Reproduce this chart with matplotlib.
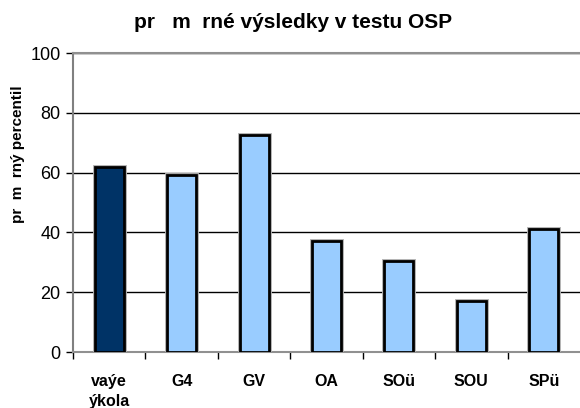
import matplotlib
matplotlib.use("Agg")
import matplotlib.pyplot as plt
import matplotlib.patheffects as pe

categories = ["vaýe\nýkola", "G4", "GV", "OA", "SOü", "SOU", "SPü"]
values = [62, 59.2, 72.7, 37.3, 30.6, 17.2, 41.2]
colors = ["#003366"] + ["#99CCFF"] * 6
yticks = [0, 20, 40, 60, 80, 100]

plt.rcParams['font.family'] = ['Liberation Sans', 'DejaVu Sans']

fig = plt.figure(figsize=(5.8, 4.08), dpi=100)
ax = fig.add_axes([0.126, 0.137, 0.874, 0.733])

x = list(range(len(categories)))
bars = ax.bar(x, values, width=0.4, color=colors, edgecolor="black", linewidth=2, zorder=3)
for b in bars:
    b.set_path_effects([pe.Stroke(linewidth=3.5, foreground="#b0b0b0"), pe.Normal()])

ax.set_xlim(-0.5, len(categories) - 0.5)
ax.set_ylim(0, 100)
ax.set_yticks(yticks)
ax.yaxis.grid(True, color="black", linewidth=1)
ax.set_axisbelow(True)

ax.set_xticks([i - 0.5 for i in range(len(categories))], minor=False)
ax.set_xticklabels([])
ax.set_xticks(x, minor=True)
ax.set_xticklabels(categories, minor=True, fontweight="bold", fontsize=11.5,
                   linespacing=1.35, va="top")
ax.tick_params(axis="x", which="minor", length=0, pad=16)
ax.tick_params(axis="x", which="major", length=5, width=1, color="black")
ax.tick_params(axis="y", length=5, width=1, labelsize=13, pad=4)

ax.spines["right"].set_visible(False)
ax.spines["top"].set_color("#909090")
ax.spines["top"].set_linewidth(1.5)
ax.spines["left"].set_color("#808080")
ax.spines["left"].set_linewidth(1.5)
ax.spines["bottom"].set_color("#909090")
ax.spines["bottom"].set_linewidth(1.5)

fig.text(0.505, 0.945, "pr   m  rné výsledky v testu OSP", ha="center", va="center",
         fontsize=15, fontweight="bold")
fig.text(0.031, 0.622, "pr  m  rný percentil", ha="center", va="center", rotation=90,
         fontsize=11, fontweight="bold")

fig.savefig("out.png", dpi=100)
